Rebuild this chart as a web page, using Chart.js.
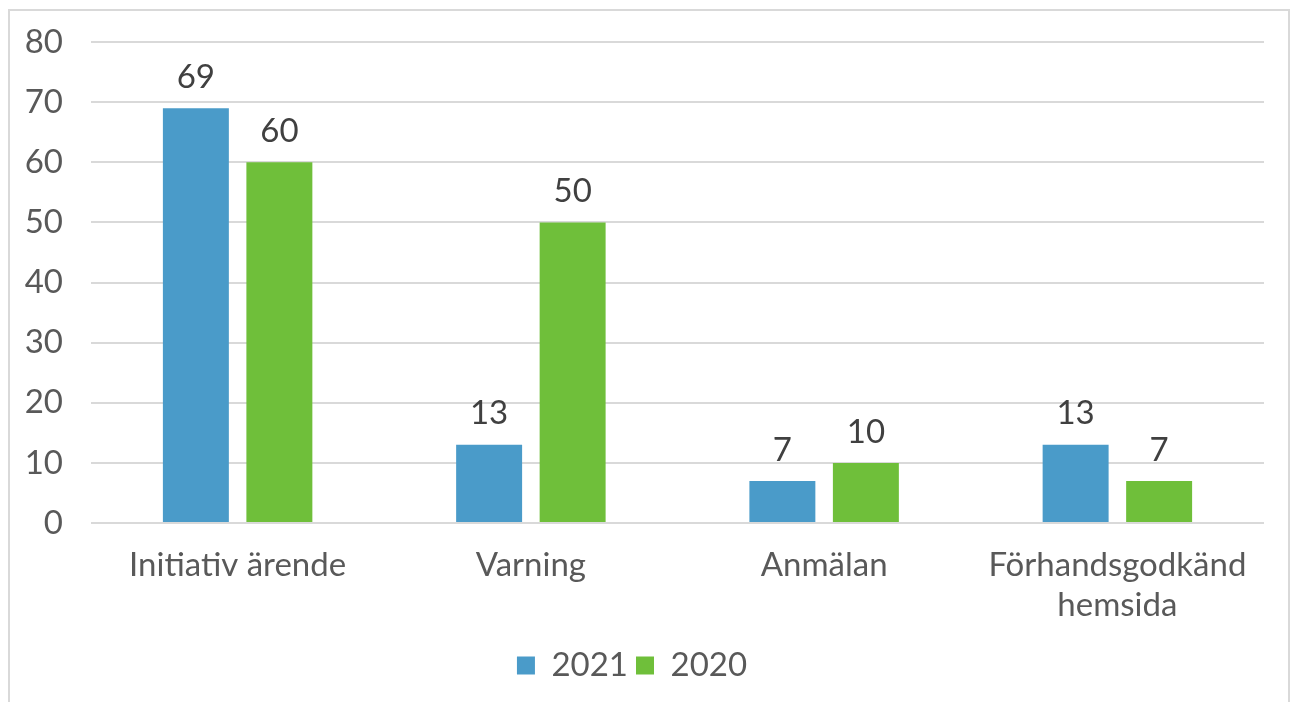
<!DOCTYPE html>
<html><head><meta charset="utf-8">
<script src="https://cdn.jsdelivr.net/npm/chart.js@4/dist/chart.umd.min.js"></script>
<style>
html,body{margin:0;padding:0;background:#fff;width:1294px;height:702px;overflow:hidden}
#frame{position:absolute;left:8px;top:9px;width:1282px;height:720px;border:2px solid #d9d9d9;box-sizing:border-box}
#wrap{position:absolute;left:0;top:0;width:1294px;height:702px}
</style></head><body>
<div id="frame"></div>
<div id="wrap"><canvas id="c" width="1294" height="702"></canvas></div>
<script>
const categories = ['Initiativ ärende', 'Varning', 'Anmälan', ['Förhandsgodkänd', 'hemsida']];
const series2021 = [69, 13, 7, 13];
const series2020 = [60, 50, 10, 7];
const yTicks = [0, 10, 20, 30, 40, 50, 60, 70, 80];

const FONT = "Lato, 'Open Sans', sans-serif";
const FS = 33;
const TXT = '#595959';

const labelPlugin = {
  id: 'valueLabels',
  afterDatasetsDraw(chart) {
    const ctx = chart.ctx;
    ctx.save();
    ctx.font = FS + 'px ' + FONT;
    ctx.fillStyle = '#404040';
    ctx.textAlign = 'center';
    ctx.textBaseline = 'middle';
    chart.data.datasets.forEach((ds, i) => {
      chart.getDatasetMeta(i).data.forEach((bar, j) => {
        ctx.fillText(String(ds.data[j]), bar.x, bar.y - 31);
      });
    });
    ctx.restore();
  }
};

new Chart(document.getElementById('c'), {
  type: 'bar',
  data: {
    labels: categories,
    datasets: [
      { label: '2021', data: series2021, backgroundColor: '#4a9bc9', categoryPercentage: 0.5695, barPercentage: 0.79 },
      { label: '2020', data: series2020, backgroundColor: '#6fbf3a', categoryPercentage: 0.5695, barPercentage: 0.79 }
    ]
  },
  options: {
    responsive: false,
    animation: false,
    devicePixelRatio: 1,
    layout: { padding: { top: 42, right: 30, left: 0, bottom: 10 } },
    plugins: {
      legend: {
        position: 'bottom',
        labels: { font: { size: FS, family: FONT }, color: TXT, boxWidth: 18, boxHeight: 18, padding: 8 }
      },
      tooltip: { enabled: false }
    },
    scales: {
      x: {
        grid: { display: false },
        border: { display: false },
        ticks: { font: { size: FS, family: FONT }, color: TXT, padding: 15, maxRotation: 0, autoSkip: false },
        afterFit(s) { s.height = 118; }
      },
      y: {
        min: 0, max: 80,
        afterBuildTicks(s) { s.ticks = yTicks.map(v => ({ value: v })); },
        grid: { color: '#d9d9d9', lineWidth: 2, drawTicks: false },
        border: { display: false },
        ticks: { font: { size: FS, family: FONT, lineHeight: 0.8 }, color: TXT, padding: 28 },
        afterFit(s) { s.width = 91; }
      }
    }
  },
  plugins: [labelPlugin]
});
</script>
</body></html>
